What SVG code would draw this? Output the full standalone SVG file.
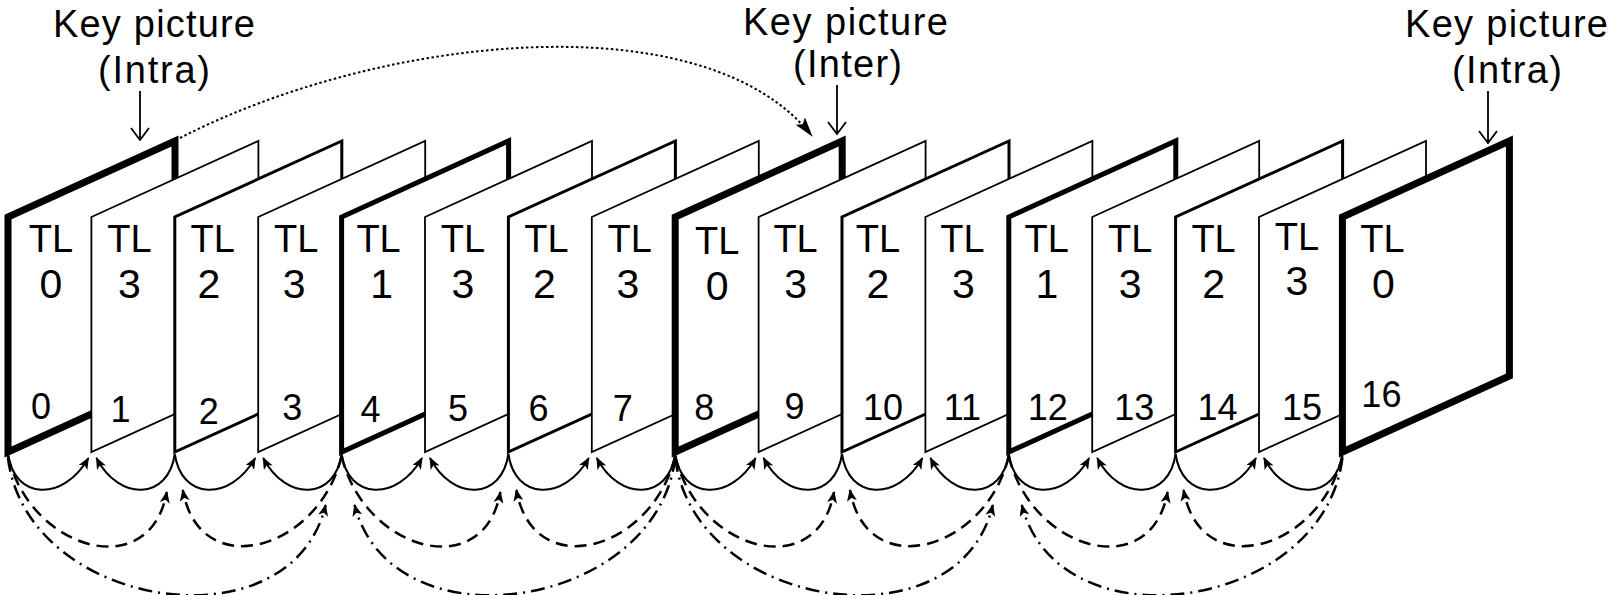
<svg xmlns="http://www.w3.org/2000/svg" xmlns:xlink="http://www.w3.org/1999/xlink" width="1614" height="595" viewBox="0 0 1614 595">
  <style>
    text { font-family: "Liberation Sans", Arial, Helvetica, sans-serif; fill: #000; }
    .frame polygon { fill: #fff; stroke: #000; stroke-linejoin: miter; stroke-miterlimit: 10; }
    .lv0 polygon { stroke-width: 7; }
    .lv1 polygon { stroke-width: 5; }
    .lv2 polygon { stroke-width: 3; }
    .lv3 polygon { stroke-width: 1.8; }
    .tl { font-size: 38px; text-anchor: middle; }
    .lvl { font-size: 41px; text-anchor: middle; }
    .num { font-size: 36px; text-anchor: middle; }
    .label { font-size: 38px; }
    .arc { fill: none; stroke: #000; }
    .s3 { stroke-width: 2; }
    .s2 { stroke-width: 2.5; stroke-dasharray: 12 7; }
    .s1 { stroke-width: 2.5; stroke-dasharray: 14 6 2 6; }
    .ref { fill: none; stroke: #000; stroke-width: 2; stroke-dasharray: 2.5 2.5; }
    .pointer { stroke: #000; stroke-width: 1.8; fill: none; }
  </style>
  <defs>
    <marker id="ah" markerUnits="userSpaceOnUse" viewBox="0 0 12 10" markerWidth="12" markerHeight="10" refX="11" refY="5" orient="auto">
      <path d="M0,0 L12,5 L0,10 L3,5 z" fill="#000"/>
    </marker>
    <marker id="ahBig" markerUnits="userSpaceOnUse" viewBox="0 0 20 12" markerWidth="20" markerHeight="12" refX="19" refY="6" orient="auto">
      <path d="M0,0 L20,6 L0,12 L4,6 z" fill="#000"/>
    </marker>
    <marker id="open" markerUnits="userSpaceOnUse" viewBox="0 0 14 20" markerWidth="14" markerHeight="20" refX="13" refY="10" orient="auto">
      <path d="M1,1 L13,10 L1,19" fill="none" stroke="#000" stroke-width="1.8"/>
    </marker>
    <!-- prediction arcs, drawn relative to the bottom-left corner of the predicted frame -->
    <path id="a3L" d="M-83.4,454 C-77,500 -28,502 -3,458"/>
    <path id="a3R" d="M83.4,454 C77,500 28,502 5,458"/>
    <path id="a2L" d="M-166.8,456 C-144.8,550 -24.8,585 -8,492"/>
    <path id="a2R" d="M166.8,456 C144.8,550 24.8,585 8,490"/>
    <path id="a1L" d="M-333.6,458 C-315,610 -50,650 -16,505"/>
    <path id="a1R" d="M333.6,458 C315,610 50,650 13,505"/>
  </defs>

  <!-- titles -->
  <g id="label-key-intra-first">
    <text class="label" x="53" y="37" textLength="202" lengthAdjust="spacing">Key picture</text>
    <text class="label" x="98" y="83" textLength="112" lengthAdjust="spacing">(Intra)</text>
  </g>
  <g id="label-key-inter">
    <text class="label" x="743" y="35" textLength="205" lengthAdjust="spacing">Key picture</text>
    <text class="label" x="793" y="77" textLength="109" lengthAdjust="spacing">(Inter)</text>
  </g>
  <g id="label-key-intra-last">
    <text class="label" x="1405" y="37" textLength="203" lengthAdjust="spacing">Key picture</text>
    <text class="label" x="1452" y="83" textLength="110" lengthAdjust="spacing">(Intra)</text>
  </g>

  <!-- pictures of the group, drawn back to front -->
  <g id="frame-0" class="frame lv0" transform="translate(8,0)">
    <polygon points="0,452 0,217 167,141 167,376"/>
    <text class="tl" x="43" y="252">TL</text><text class="lvl" x="43" y="298">0</text>
    <text class="num" x="33" y="419">0</text>
  </g>
  <g id="frame-1" class="frame lv3" transform="translate(91.4,0)">
    <polygon points="0,452 0,217 167,141 167,376"/>
    <text class="tl" x="38" y="252">TL</text><text class="lvl" x="38" y="298">3</text>
    <text class="num" x="29" y="422">1</text>
  </g>
  <g id="frame-2" class="frame lv2" transform="translate(174.8,0)">
    <polygon points="0,452 0,217 167,141 167,376"/>
    <text class="tl" x="38" y="252">TL</text><text class="lvl" x="34" y="298">2</text>
    <text class="num" x="34" y="424">2</text>
  </g>
  <g id="frame-3" class="frame lv3" transform="translate(258.2,0)">
    <polygon points="0,452 0,217 167,141 167,376"/>
    <text class="tl" x="38" y="252">TL</text><text class="lvl" x="36" y="298">3</text>
    <text class="num" x="34" y="420">3</text>
  </g>
  <g id="frame-4" class="frame lv1" transform="translate(341.6,0)">
    <polygon points="0,452 0,217 167,141 167,376"/>
    <text class="tl" x="37" y="252">TL</text><text class="lvl" x="40" y="298">1</text>
    <text class="num" x="29" y="422">4</text>
  </g>
  <g id="frame-5" class="frame lv3" transform="translate(425,0)">
    <polygon points="0,452 0,217 167,141 167,376"/>
    <text class="tl" x="38" y="252">TL</text><text class="lvl" x="38" y="298">3</text>
    <text class="num" x="33" y="421">5</text>
  </g>
  <g id="frame-6" class="frame lv2" transform="translate(508.4,0)">
    <polygon points="0,452 0,217 167,141 167,376"/>
    <text class="tl" x="38" y="252">TL</text><text class="lvl" x="36" y="298">2</text>
    <text class="num" x="30" y="421">6</text>
  </g>
  <g id="frame-7" class="frame lv3" transform="translate(591.8,0)">
    <polygon points="0,452 0,217 167,141 167,376"/>
    <text class="tl" x="38" y="252">TL</text><text class="lvl" x="36" y="298">3</text>
    <text class="num" x="31" y="421">7</text>
  </g>
  <g id="frame-8" class="frame lv0" transform="translate(675.2,0)">
    <polygon points="0,452 0,217 167,141 167,376"/>
    <text class="tl" x="42" y="254">TL</text><text class="lvl" x="42" y="300">0</text>
    <text class="num" x="29" y="420">8</text>
  </g>
  <g id="frame-9" class="frame lv3" transform="translate(758.6,0)">
    <polygon points="0,452 0,217 167,141 167,376"/>
    <text class="tl" x="37" y="252">TL</text><text class="lvl" x="37" y="298">3</text>
    <text class="num" x="36" y="419">9</text>
  </g>
  <g id="frame-10" class="frame lv2" transform="translate(842,0)">
    <polygon points="0,452 0,217 167,141 167,376"/>
    <text class="tl" x="36" y="252">TL</text><text class="lvl" x="36" y="298">2</text>
    <text class="num" x="41" y="420">10</text>
  </g>
  <g id="frame-11" class="frame lv3" transform="translate(925.4,0)">
    <polygon points="0,452 0,217 167,141 167,376"/>
    <text class="tl" x="37" y="252">TL</text><text class="lvl" x="38" y="298">3</text>
    <text class="num" x="37" y="420">11</text>
  </g>
  <g id="frame-12" class="frame lv1" transform="translate(1008.8,0)">
    <polygon points="0,452 0,217 167,141 167,376"/>
    <text class="tl" x="38" y="252">TL</text><text class="lvl" x="38" y="298">1</text>
    <text class="num" x="39" y="420">12</text>
  </g>
  <g id="frame-13" class="frame lv3" transform="translate(1092.2,0)">
    <polygon points="0,452 0,217 167,141 167,376"/>
    <text class="tl" x="38" y="252">TL</text><text class="lvl" x="38" y="298">3</text>
    <text class="num" x="42" y="420">13</text>
  </g>
  <g id="frame-14" class="frame lv2" transform="translate(1175.6,0)">
    <polygon points="0,452 0,217 167,141 167,376"/>
    <text class="tl" x="38" y="252">TL</text><text class="lvl" x="38" y="298">2</text>
    <text class="num" x="42" y="420">14</text>
  </g>
  <g id="frame-15" class="frame lv3" transform="translate(1259,0)">
    <polygon points="0,452 0,217 167,141 167,376"/>
    <text class="tl" x="38" y="250">TL</text><text class="lvl" x="38" y="295">3</text>
    <text class="num" x="43" y="420">15</text>
  </g>
  <g id="frame-16" class="frame lv0" transform="translate(1342.4,0)">
    <polygon points="0,452 0,217 167,141 167,376"/>
    <text class="tl" x="40" y="252">TL</text><text class="lvl" x="41" y="298">0</text>
    <text class="num" x="39" y="407">16</text>
  </g>

  <!-- references between pictures -->
  <g id="connectors">
    <!-- label pointers -->
    <line class="pointer" x1="140" y1="91" x2="140" y2="140" marker-end="url(#open)"/>
    <line class="pointer" x1="837" y1="85" x2="837" y2="134" marker-end="url(#open)"/>
    <line class="pointer" x1="1488" y1="91" x2="1488" y2="143" marker-end="url(#open)"/>
    <!-- key picture to key picture -->
    <path class="ref" d="M180,138 C380,35 705,0 812,136" marker-end="url(#ahBig)"/>
    <!-- TL 3 -->
    <g class="arc s3" marker-end="url(#ah)">
      <use xlink:href="#a3L" x="91.4"/><use xlink:href="#a3R" x="91.4"/>
      <use xlink:href="#a3L" x="258.2"/><use xlink:href="#a3R" x="258.2"/>
      <use xlink:href="#a3L" x="425"/><use xlink:href="#a3R" x="425"/>
      <use xlink:href="#a3L" x="591.8"/><use xlink:href="#a3R" x="591.8"/>
      <use xlink:href="#a3L" x="758.6"/><use xlink:href="#a3R" x="758.6"/>
      <use xlink:href="#a3L" x="925.4"/><use xlink:href="#a3R" x="925.4"/>
      <use xlink:href="#a3L" x="1092.2"/><use xlink:href="#a3R" x="1092.2"/>
      <use xlink:href="#a3L" x="1259"/><use xlink:href="#a3R" x="1259"/>
    </g>
    <!-- TL 2 -->
    <g class="arc s2" marker-end="url(#ah)">
      <use xlink:href="#a2L" x="174.8"/><use xlink:href="#a2R" x="174.8"/>
      <use xlink:href="#a2L" x="508.4"/><use xlink:href="#a2R" x="508.4"/>
      <use xlink:href="#a2L" x="842"/><use xlink:href="#a2R" x="842"/>
      <use xlink:href="#a2L" x="1175.6"/><use xlink:href="#a2R" x="1175.6"/>
    </g>
    <!-- TL 1 -->
    <g class="arc s1" marker-end="url(#ah)">
      <use xlink:href="#a1L" x="341.6"/><use xlink:href="#a1R" x="341.6"/>
      <use xlink:href="#a1L" x="1008.8"/><use xlink:href="#a1R" x="1008.8"/>
    </g>
  </g>
</svg>
